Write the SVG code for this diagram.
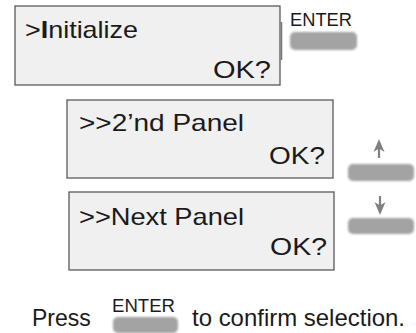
<svg xmlns="http://www.w3.org/2000/svg" width="416" height="333" viewBox="0 0 416 333">
<style>
.panel{fill:#f0f0f0;stroke:#5a5a5a;stroke-width:1.3}
.t{font-family:"Liberation Sans",Arial,sans-serif;fill:#1a1a1a}
.big{font-size:24px}
.lbl{font-size:18px}
.btn{fill:#a3a3a3}
.arr{fill:#808080}
.shaft{stroke:#808080;stroke-width:2.2}
</style>
<defs>
<filter id="soft" x="-10%" y="-30%" width="120%" height="160%">
<feGaussianBlur stdDeviation="0.8"/>
</filter>
</defs>
<g id="panel-initialize">
<rect class="panel" x="15" y="6" width="265" height="79"/>
<line x1="281.5" y1="22" x2="281.5" y2="60" stroke="#777" stroke-width="1.5"/>
<text class="t big" x="25" y="38" textLength="113" lengthAdjust="spacingAndGlyphs">&gt;<tspan font-weight="bold">I</tspan>nitialize</text>
<text class="t big" x="213" y="78" textLength="58" lengthAdjust="spacingAndGlyphs">OK?</text>
</g>
<g id="enter-top">
<text class="t lbl" x="290" y="26" textLength="62" lengthAdjust="spacingAndGlyphs">ENTER</text>
<rect class="btn" x="290" y="32" width="67" height="18" rx="5" filter="url(#soft)"/>
</g>
<g id="panel-2nd">
<rect class="panel" x="67" y="100" width="266" height="78"/>
<text class="t big" x="79" y="131" textLength="165" lengthAdjust="spacingAndGlyphs">&gt;&gt;2’nd Panel</text>
<text class="t big" x="269" y="164" textLength="56" lengthAdjust="spacingAndGlyphs">OK?</text>
</g>
<g id="panel-next">
<rect class="panel" x="69" y="192" width="265" height="78"/>
<text class="t big" x="79" y="225" textLength="165" lengthAdjust="spacingAndGlyphs">&gt;&gt;Next Panel</text>
<text class="t big" x="270" y="255" textLength="57" lengthAdjust="spacingAndGlyphs">OK?</text>
</g>
<g id="up-button">
<line class="shaft" x1="379" y1="147" x2="379" y2="158"/>
<polygon class="arr" points="379,139 373.5,152 379,148.5 384.5,152"/>
<rect class="btn" x="348" y="164" width="66" height="17" rx="5" filter="url(#soft)"/>
</g>
<g id="down-button">
<line class="shaft" x1="380" y1="196" x2="380" y2="207"/>
<polygon class="arr" points="380,215 374.5,202 380,205.5 385.5,202"/>
<rect class="btn" x="348" y="218" width="66" height="16" rx="5" filter="url(#soft)"/>
</g>
<g id="connectors"></g>
<g id="instruction">
<text class="t" font-size="23" x="32" y="326">Press</text>
<text class="t lbl" x="112" y="312" textLength="63" lengthAdjust="spacingAndGlyphs">ENTER</text>
<rect class="btn" x="113" y="317" width="65" height="16" rx="5" filter="url(#soft)"/>
<text class="t" font-size="24" x="192" y="326" textLength="213" lengthAdjust="spacingAndGlyphs">to confirm selection.</text>
</g>
</svg>
